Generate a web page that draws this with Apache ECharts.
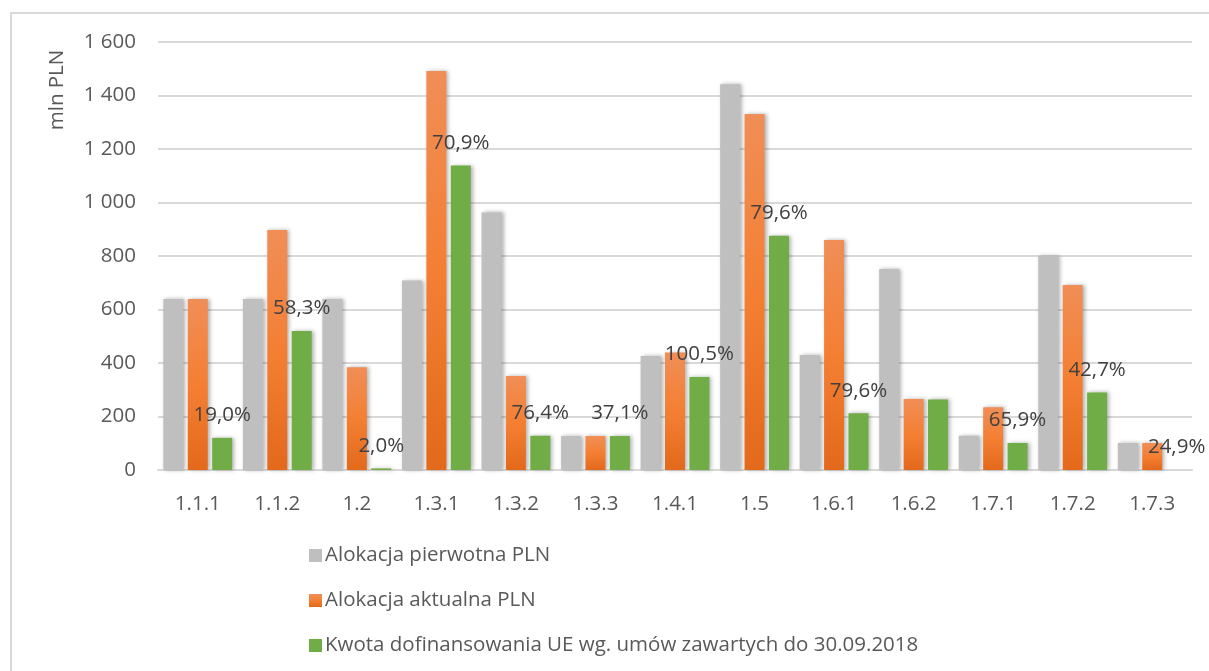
<!DOCTYPE html>
<html>
<head>
<meta charset="utf-8">
<script src="https://cdn.jsdelivr.net/npm/echarts@6/dist/echarts.min.js"></script>
<style>
  html, body { margin: 0; padding: 0; background: #ffffff; }
  #chart { width: 1209px; height: 671px; }
</style>
</head>
<body>
<div id="chart"></div>
<script>
// Działania / poddziałania
const categories = ['1.1.1', '1.1.2', '1.2', '1.3.1', '1.3.2', '1.3.3', '1.4.1', '1.5', '1.6.1', '1.6.2', '1.7.1', '1.7.2', '1.7.3'];

// mln PLN
const alokacjaPierwotna = [639, 639, 639, 708, 963, 127, 426, 1442, 430, 751, 128, 800, 101];
const alokacjaAktualna  = [639, 897, 384, 1492, 351, 127, 439, 1331, 860, 265, 235, 692, 101];
const kwotaUE           = [120, 520, 6, 1138, 128, 127, 348, 876, 212, 264, 101, 290, 0];

// Etykiety procentowe nad słupkami dofinansowania UE
const procenty = ['19,0%', '58,3%', '2,0%', '70,9%', '76,4%', '37,1%', '100,5%', '79,6%', '79,6%', null, '65,9%', '42,7%', '24,9%'];

const yTicks = { min: 0, max: 1600, interval: 200 };

const seriesNames = [
  'Alokacja pierwotna PLN',
  'Alokacja aktualna PLN',
  'Kwota dofinansowania UE wg. umów zawartych do 30.09.2018'
];

const FONT = '"Open Sans", "Noto Sans", sans-serif';
const TEXT = '#595959';
const FS = 20.5;

const shadow = {
  shadowBlur: 4,
  shadowOffsetX: 2,
  shadowOffsetY: 0,
  shadowColor: 'rgba(0,0,0,0.30)'
};

const orangeGradient = new echarts.graphic.LinearGradient(0, 0, 0, 1, [
  { offset: 0, color: '#F08E57' },
  { offset: 0.5, color: '#F47F33' },
  { offset: 1, color: '#E3691B' }
]);

const chart = echarts.init(document.getElementById('chart'), null, { renderer: 'canvas' });

chart.setOption({
  animation: false,
  backgroundColor: '#ffffff',
  textStyle: { fontFamily: FONT },
  graphic: [
    {
      type: 'rect',
      shape: { x: 11, y: 13, width: 1220, height: 680 },
      style: { fill: 'none', stroke: '#D9D9D9', lineWidth: 2 },
      silent: true,
      z: -1
    },
    {
      type: 'text',
      x: 57,
      y: 90,
      rotation: Math.PI / 2,
      style: {
        text: 'mln PLN',
        fill: TEXT,
        font: FS + 'px ' + FONT,
        align: 'center',
        verticalAlign: 'middle'
      }
    }
  ],
  grid: { left: 158, right: 17, top: 42, bottom: 201, containLabel: false },
  legend: {
    orient: 'vertical',
    left: 304,
    top: 540,
    itemWidth: 13,
    itemHeight: 13,
    itemGap: 24,
    icon: 'rect',
    textStyle: { color: TEXT, fontSize: FS, fontFamily: FONT, padding: [0, 0, 0, -2] },
    data: seriesNames
  },
  xAxis: {
    type: 'category',
    data: categories,
    axisLine: { lineStyle: { color: '#D9D9D9', width: 2 } },
    axisTick: { show: false },
    axisLabel: { color: TEXT, fontSize: FS, margin: 24, fontFamily: FONT }
  },
  yAxis: {
    type: 'value',
    min: yTicks.min,
    max: yTicks.max,
    interval: yTicks.interval,
    axisLine: { show: false },
    axisTick: { show: false },
    splitLine: { lineStyle: { color: '#D9D9D9', width: 2 } },
    axisLabel: {
      color: TEXT,
      fontSize: FS,
      margin: 22,
      fontFamily: FONT,
      formatter: v => String(v).replace(/\B(?=(\d{3})+(?!\d))/g, ' ')
    }
  },
  series: [
    {
      name: seriesNames[0],
      type: 'bar',
      barWidth: 20,
      barGap: '22%',
      data: alokacjaPierwotna,
      itemStyle: Object.assign({ color: '#BFBFBF' }, shadow)
    },
    {
      name: seriesNames[1],
      type: 'bar',
      barWidth: 20,
      barGap: '22%',
      data: alokacjaAktualna,
      itemStyle: Object.assign({ color: orangeGradient }, shadow)
    },
    {
      name: seriesNames[2],
      type: 'bar',
      barWidth: 20,
      barGap: '22%',
      data: kwotaUE,
      itemStyle: Object.assign({ color: '#70AD47' }, shadow),
      label: {
        show: true,
        position: 'top',
        distance: 12,
        color: '#404040',
        fontSize: FS,
        fontFamily: FONT,
        formatter: p => procenty[p.dataIndex] || ''
      },
      z: 3
    }
  ]
});
</script>
</body>
</html>
